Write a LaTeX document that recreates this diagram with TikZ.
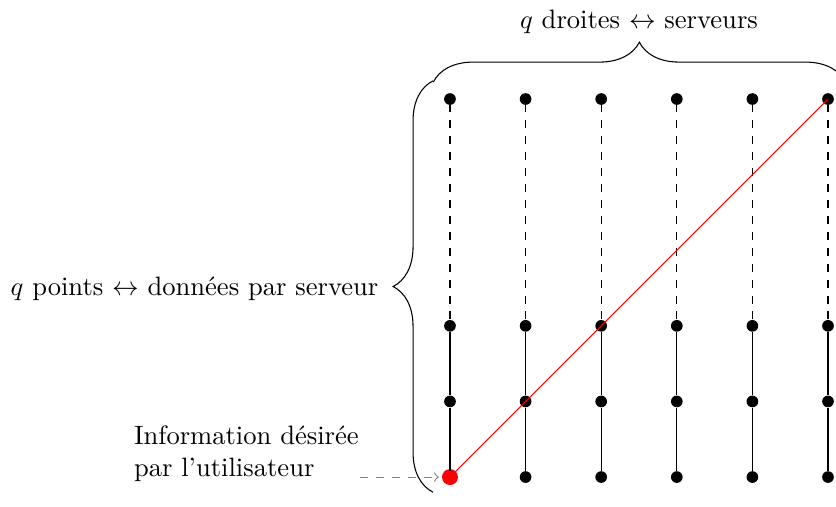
\documentclass[tikz,border=0pt]{standalone}
\usetikzlibrary{decorations.pathreplacing}
\begin{document}
\begin{tikzpicture}[
  dot/.style={circle,fill=black,inner sep=0pt,minimum size=4.4pt},
  target/.style={circle,fill=red,inner sep=0pt,minimum size=6pt},
  bracepath/.style={decorate,decoration={brace,amplitude=15pt}},
  label/.style={inner sep=0pt},
  pointer/.style={->,dashed,gray,shorten >=1pt},
]
\useasboundingbox (-5.952,-0.384) rectangle (5.106,6.310);

% grid of points: rows 0,1,2 and the top row 5
\foreach \i in {0,...,5}{
  \foreach \j in {0,1,2,5}{
    \node[dot] (p-\i-\j) at (\i,\j) {};
  }
}
\node[target] (tgt) at (0,0) {};

% solid segments in the lower rows, dashed up to the top row
\foreach \i in {0,...,5}{
  \draw (p-\i-0) -- (p-\i-1) -- (p-\i-2);
  \draw[dashed] (p-\i-2) -- (p-\i-5);
}

% the diagonal line through the desired point
\draw[red] (tgt.center) -- (p-5-5.center);

% braces
\coordinate (tb-l) at (-0.22,5.225);
\coordinate (tb-r) at (5.23,5.225);
\coordinate (lb-b) at (-0.225,-0.2);
\coordinate (lb-t) at (-0.225,5.24);
\draw[bracepath] (tb-l) -- (tb-r);
\draw[bracepath] (lb-b) -- (lb-t);

\node[label] (top) at (2.5,6.02) {$q$ droites $\leftrightarrow$ serveurs};
\node[label,anchor=east] (left) at (-0.94,2.49) {$q$ points $\leftrightarrow$ données par serveur};

\node[label,anchor=east,align=left] (info) at (-1.2,0.31)
  {Information désirée\\par l'utilisateur};
\coordinate (info-end) at (-1.19,0);
\draw[pointer] (info-end) -- (tgt);
\end{tikzpicture}
\end{document}
